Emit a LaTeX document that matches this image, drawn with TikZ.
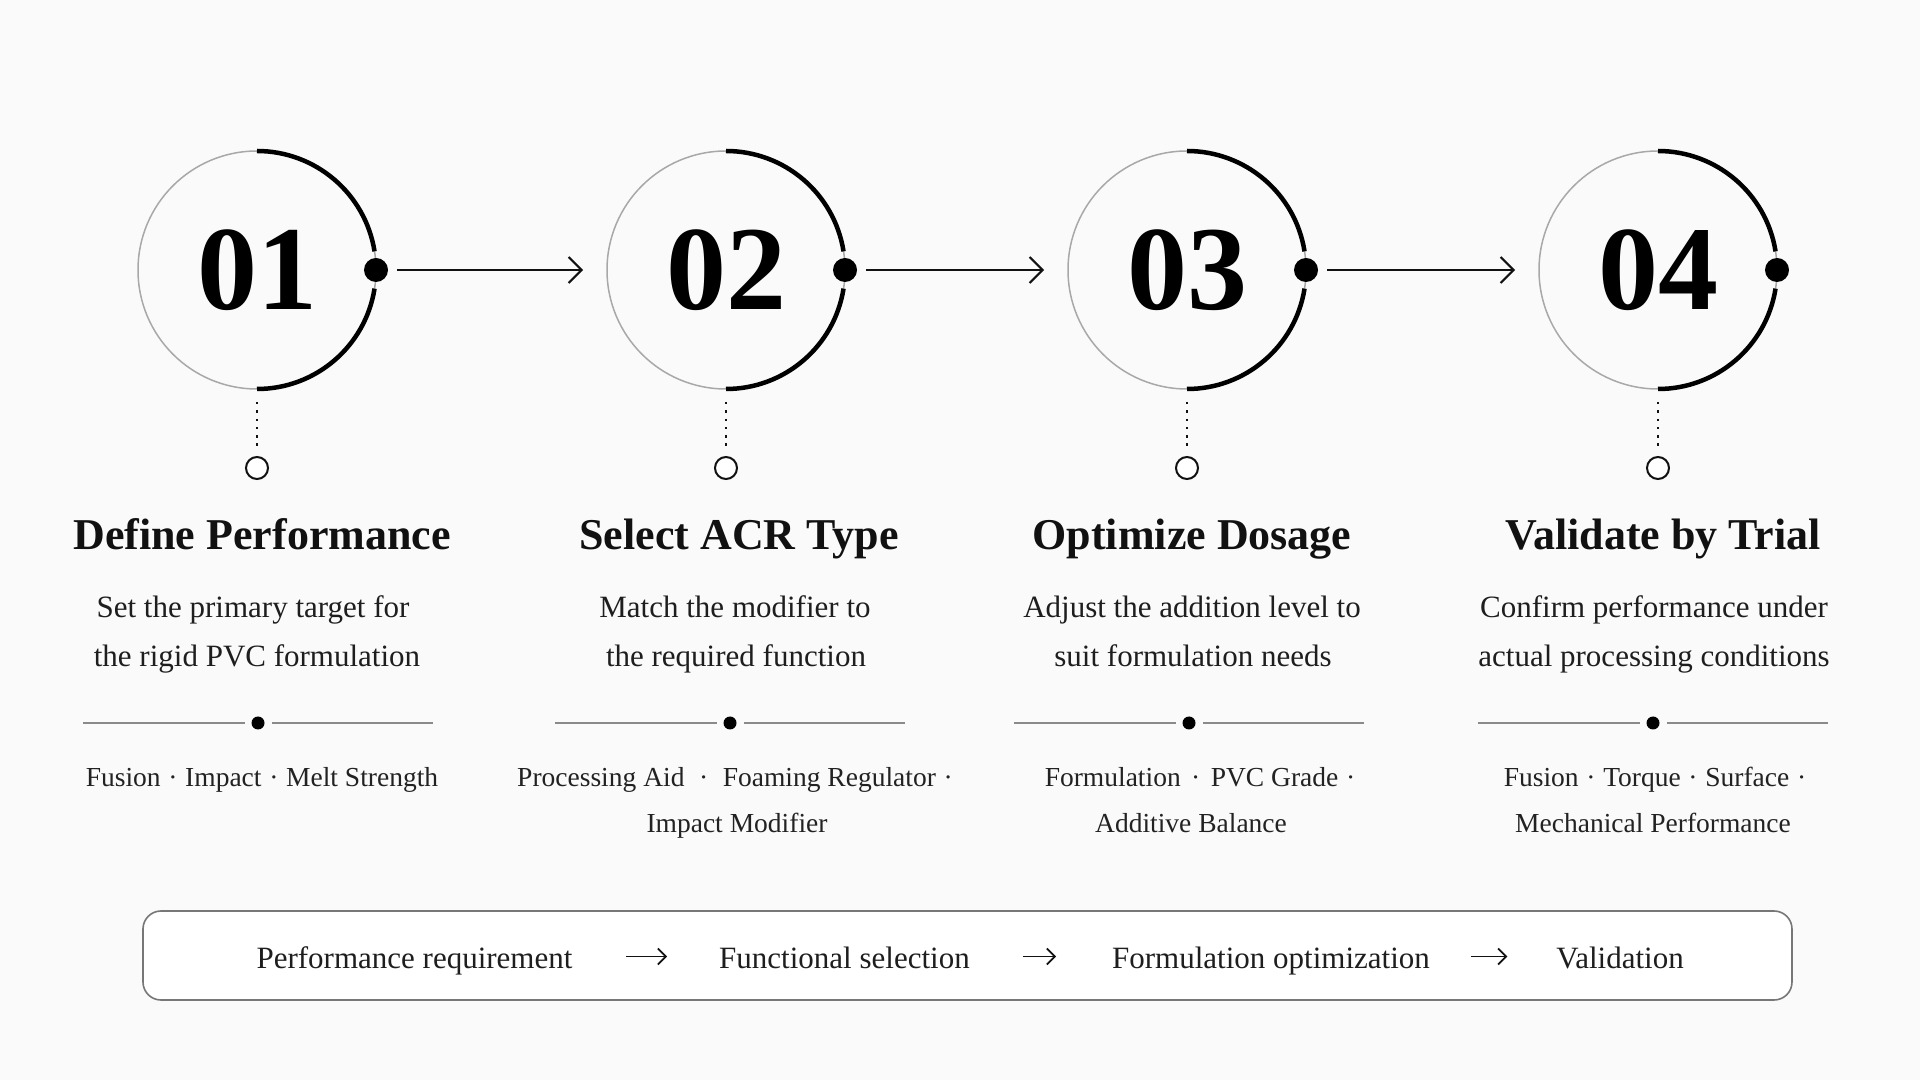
\documentclass[tikz,border=0pt]{standalone}
\usepackage{fontspec}
\setmainfont{Liberation Serif}
\usetikzlibrary{arrows.meta}
\definecolor{bgcol}{HTML}{FAFAFA}
\definecolor{ringgray}{HTML}{A8A8A8}
\definecolor{sepgray}{HTML}{8A8A8A}
\definecolor{titlecol}{HTML}{111111}
\definecolor{desccol}{HTML}{1E1E1E}
\definecolor{tagcol}{HTML}{222222}
\definecolor{boxgray}{HTML}{777777}
\newcommand{\tsep}{\hspace{0.28em}·\hspace{0.28em}}
\begin{document}
\begin{tikzpicture}[x=1pt,y=1pt,
  ring/.style={circle, draw=ringgray, line width=1.5pt, minimum size=238pt, inner sep=0pt, outer sep=0pt,
    font=\fontsize{120}{120}\selectfont\bfseries, text=black},
  arcstyle/.style={line width=4.5pt, draw=black},
  bigdot/.style={circle, fill=black, minimum size=24pt, inner sep=0pt, outer sep=0pt},
  flow/.style={-{Straight Barb[length=13pt,width=26pt,line width=2pt]}, line width=2pt, draw=titlecol,
    shorten <=9pt, shorten >=24pt},
  stem/.style={line width=2.5pt, dash pattern=on 2.5pt off 5.8pt, draw=titlecol, shorten <=13pt, shorten >=9pt},
  smallring/.style={circle, draw=titlecol, line width=2pt, minimum size=22pt, fill=white, inner sep=0pt, outer sep=0pt},
  steptitle/.style={font=\fontsize{44}{50}\selectfont\bfseries, anchor=base, text=titlecol, inner sep=0pt},
  desc/.style={font=\fontsize{31}{36}\selectfont, anchor=base, inner sep=0pt, text=desccol},
  tag/.style={font=\fontsize{27.5}{32}\selectfont, anchor=base, inner sep=0pt, text=tagcol},
  sepline/.style={draw=sepgray, line width=1.6pt, shorten >=7pt},
  sepdot/.style={circle, fill=black, minimum size=13pt, inner sep=0pt, outer sep=0pt},
  bottomtxt/.style={font=\fontsize{31}{36}\selectfont, inner sep=0pt, outer sep=0pt, text height=30pt, text depth=7pt,
    anchor=base, text=desccol},
  barrow/.style={-{Straight Barb[length=8pt,width=16pt,line width=1.8pt]}, line width=1.8pt, draw=titlecol},
  summary/.style={draw=boxgray, line width=1.6pt, rounded corners=18pt, fill=white,
    minimum width=1649pt, minimum height=89pt, inner sep=0pt}
]
\fill[bgcol] (0,0) rectangle (1920,1080);
\useasboundingbox (0,0) rectangle (1920,1080);

% step circles
\foreach \i/\cx/\num in {1/257/01, 2/726/02, 3/1187/03, 4/1658/04}{
  \node[ring] (c\i) at (\cx,810) {\num};
  \draw[arcstyle] ([shift={(90:119pt)}]c\i.center) arc[start angle=90, end angle=9, radius=119pt];
  \draw[arcstyle] ([shift={(-9:119pt)}]c\i.center) arc[start angle=-9, end angle=-90, radius=119pt];
  \node[bigdot] (d\i) at (c\i.east) {};
  \node[smallring] (s\i) at (\cx,612) {};
  \draw[stem] (c\i) -- (s\i);
}
\foreach \i/\j in {1/2, 2/3, 3/4}{
  \draw[flow] (d\i) -- (c\j);
}

% separators
\foreach \i/\sx in {1/258, 2/730, 3/1189, 4/1653}{
  \node[sepdot] (sd\i) at (\sx,357) {};
  \coordinate (sl\i) at (\sx-175,357);
  \coordinate (sr\i) at (\sx+175,357);
  \draw[sepline] (sl\i) -- (sd\i);
  \draw[sepline] (sr\i) -- (sd\i);
}

% titles
\node[steptitle] (t1) at (262,530) {Define Performance};
\node[steptitle] (t2) at (739,530) {Select ACR Type};
\node[steptitle] (t3) at (1192,530) {Optimize Dosage};
\node[steptitle] (t4) at (1663,530) {Validate by Trial};

% descriptions
\node[desc] (da1) at (253,462) {Set the primary target for};
\node[desc] (db1) at (257,413) {the rigid PVC formulation};
\node[desc] (da2) at (735,462) {Match the modifier to};
\node[desc] (db2) at (736,413) {the required function};
\node[desc] (da3) at (1192,462) {Adjust the addition level to};
\node[desc] (db3) at (1193,413) {suit formulation needs};
\node[desc] (da4) at (1654,462) {Confirm performance under};
\node[desc] (db4) at (1654,413) {actual processing conditions};

% tags
\node[tag] (ga1) at (262,293) {Fusion\tsep Impact\tsep Melt Strength};
\node[tag] (ga2) at (735,293) {Processing Aid\hspace{0.25em}\tsep\hspace{0.25em}Foaming Regulator\tsep};
\node[tag] (gb2) at (737,248) {Impact Modifier};
\node[tag] (ga3) at (1200,293) {Formulation\hspace{0.1em}\tsep\hspace{0.1em}PVC Grade\tsep};
\node[tag] (gb3) at (1191,248) {Additive Balance};
\node[tag] (ga4) at (1655,293) {Fusion\tsep Torque\tsep Surface\tsep};
\node[tag] (gb4) at (1653,248) {Mechanical Performance};

% summary bar
\node[summary] (box) at (967.5,124.5) {};
\node[bottomtxt, minimum width=313pt] (b1) at (414.5,112) {Performance requirement};
\node[bottomtxt, minimum width=237pt] (b2) at (844.5,112) {Functional selection};
\node[bottomtxt, minimum width=304pt] (b3) at (1271,112) {Formulation optimization};
\node[bottomtxt, minimum width=120pt] (b4) at (1620,112) {Validation};
\draw[barrow, shorten <=54pt, shorten >=52pt] (b1) -- (b2);
\draw[barrow, shorten <=53pt, shorten >=56pt] (b2) -- (b3);
\draw[barrow, shorten <=41pt, shorten >=49pt] (b3) -- (b4);
\end{tikzpicture}
\end{document}
